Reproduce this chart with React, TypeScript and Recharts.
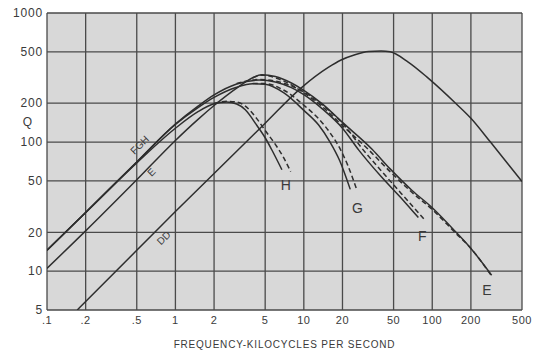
import {
  ComposedChart,
  Line,
  XAxis,
  YAxis,
  CartesianGrid,
  ReferenceDot,
  Label,
} from "recharts";

// axis ticks (kc and Q)
const xTicks = [0.1, 0.2, 0.5, 1, 2, 5, 10, 20, 50, 100, 200, 500];
const xTickText = [".1", ".2", ".5", "1", "2", "5", "10", "20", "50", "100", "200", "500"];
const yTicks = [5, 10, 20, 50, 100, 200, 500, 1000];

// curve DD
const ddFreq = [0.172, 0.5, 1, 2, 5, 9.5, 15.6, 19.5, 25, 32, 40, 47, 65, 93, 152, 200, 284, 500];
const ddQ = [5, 14.5, 29, 57, 140, 262, 380, 432, 475, 503, 508, 500, 417, 313, 200, 153, 100, 49.5];

// curve E (solid / dashed)
const eFreq = [0.1, 0.2, 0.5, 1, 1.5, 2, 3, 4, 4.7, 6, 8, 10, 14, 20, 34, 47, 70, 100, 150, 200, 290];
const eQ = [10.5, 20.5, 51, 103, 150, 192, 262, 315, 332, 322, 287, 252, 197, 142, 88, 62, 42, 31, 20.5, 15, 9.3];
const eDashFreq = [4, 4.7, 6, 8, 10, 14, 20, 32, 47, 70, 100, 150, 200, 285];
const eDashQ = [315, 330, 315, 277, 241, 187, 134, 87, 59, 40.5, 30, 20, 15, 9.4];

// curve F
const fFreq = [0.1, 0.2, 0.5, 1, 1.5, 2, 3, 4.5, 6, 8, 10, 14, 20, 26.7, 40, 60, 78];
const fQ = [14.5, 28.5, 70, 138, 190, 232, 282, 302, 292, 264, 233, 180, 128, 87, 54, 35, 26];
const fDashFreq = [3, 4.5, 6, 8, 10, 14, 20, 29, 40, 60, 88];
const fDashQ = [284, 305, 297, 272, 245, 193, 140, 87, 60, 38, 24.8];

// curve G
const gFreq = [0.1, 0.2, 0.5, 1, 1.5, 2, 3, 4, 5, 7, 10, 13, 16, 19, 23];
const gQ = [14.5, 28.5, 70, 137, 185, 222, 266, 283, 280, 240, 176, 136, 100, 72, 43];
const gDashFreq = [4, 5, 7, 10, 13, 16, 19, 22, 26];
const gDashQ = [284, 284, 252, 193, 152, 118, 90, 66, 42];

// curve H
const hFreq = [0.1, 0.2, 0.5, 1, 1.5, 2, 2.5, 3, 3.5, 4.3, 5, 5.6, 6.75];
const hQ = [14.5, 28.5, 69, 128, 172, 198, 204, 197, 178, 135, 108, 88, 61];
const hDashFreq = [2, 2.5, 3, 3.5, 4.3, 5, 6, 7, 7.9];
const hDashQ = [199, 207, 204, 190, 152, 123, 96, 75, 59];

const pts = (fs: number[], qs: number[]) => fs.map((f, i) => ({ f, q: qs[i] }));

const INK = "#3a3a3a";

const curves = [
  { key: "DD", data: pts(ddFreq, ddQ), dash: undefined },
  { key: "E", data: pts(eFreq, eQ), dash: undefined },
  { key: "E2", data: pts(eDashFreq, eDashQ), dash: "5 3" },
  { key: "F", data: pts(fFreq, fQ), dash: undefined },
  { key: "F2", data: pts(fDashFreq, fDashQ), dash: "5 3" },
  { key: "G", data: pts(gFreq, gQ), dash: undefined },
  { key: "G2", data: pts(gDashFreq, gDashQ), dash: "5 3" },
  { key: "H", data: pts(hFreq, hQ), dash: undefined },
  { key: "H2", data: pts(hDashFreq, hDashQ), dash: "5 3" },
];

// curve name tags: [text, f, Q, angle, size]
const tags: [string, number, number, number, number][] = [
  ["FGH", 0.526, 95, -45, 10],
  ["E", 0.65, 58.5, -45, 10],
  ["DD", 0.81, 18.1, -45, 10],
  ["H", 7.25, 46.4, 0, 14],
  ["G", 26.2, 31, 0, 14],
  ["F", 83.5, 18.7, 0, 14],
  ["E", 267, 7.1, 0, 14],
];

export default function App() {
  return (
    <div style={{ position: "absolute", left: 0, top: 0, background: "#fff" }}>
      <ComposedChart
        width={544}
        height={353}
        margin={{ top: 13, right: 22, bottom: 3, left: 7 }}
        style={{ fontFamily: "'Liberation Sans', Arial, sans-serif" }}
      >
        <CartesianGrid
          fill="#d8d8d8"
          stroke="#4a4a4a"
          strokeWidth={1.3}
          fillOpacity={1}
        />
        <XAxis
          dataKey="f"
          type="number"
          scale="log"
          domain={[0.1, 500]}
          ticks={xTicks}
          allowDataOverflow
          axisLine={false}
          tickLine={false}
          tickSize={0}
          tickMargin={6}
          height={40}
          tickFormatter={(v: number) => xTickText[xTicks.indexOf(v)] ?? String(v)}
          tick={{ fill: INK, fontSize: 11, letterSpacing: 0.5 }}
        >
          <Label
            value="FREQUENCY-KILOCYCLES PER SECOND"
            position="insideBottom"
            offset={2}
            fill={INK}
            fontSize={10}
            letterSpacing={0.8}
          />
        </XAxis>
        <YAxis
          dataKey="q"
          type="number"
          scale="log"
          domain={[5, 1000]}
          ticks={yTicks}
          allowDataOverflow
          axisLine={false}
          tickLine={false}
          tickSize={0}
          tickMargin={4}
          width={40}
          tick={{ fill: INK, fontSize: 12, letterSpacing: 0.8 }}
        />
        {curves.map((c) => (
          <Line
            key={c.key}
            data={c.data}
            dataKey="q"
            type="monotone"
            dot={false}
            stroke="#2e2e2e"
            strokeWidth={1.5}
            strokeDasharray={c.dash}
            isAnimationActive={false}
          />
        ))}
        <ReferenceDot x={0.1} y={143} r={0} stroke="none" fill="none" ifOverflow="visible">
          <Label value="Q" position="left" offset={15} fill={INK} fontSize={12} />
        </ReferenceDot>
        {tags.map(([t, f, q, a, s], i) => (
          <ReferenceDot key={i} x={f} y={q} r={0} stroke="none" fill="none" ifOverflow="visible">
            <Label value={t} position="center" angle={a} fill={INK} fontSize={s} />
          </ReferenceDot>
        ))}
      </ComposedChart>
    </div>
  );
}
